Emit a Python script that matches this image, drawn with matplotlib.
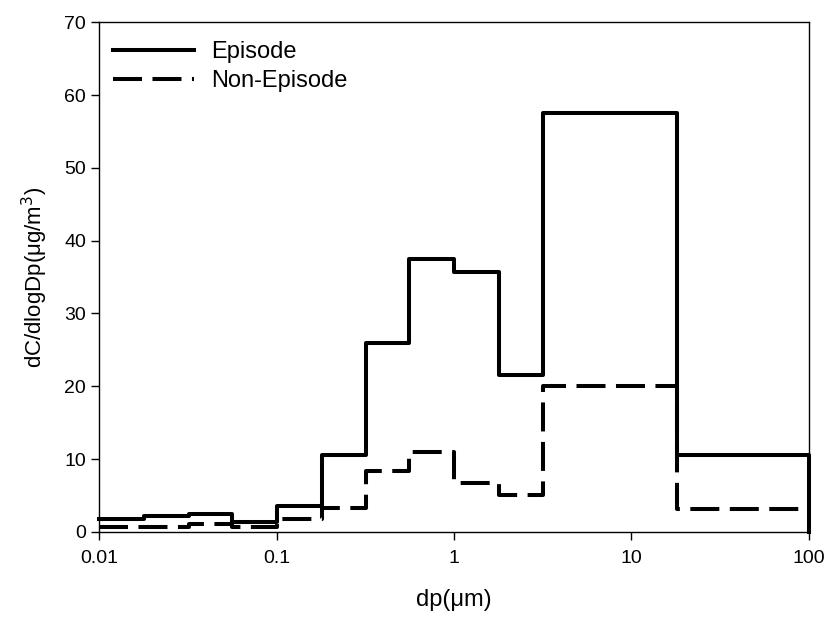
import numpy as np
import matplotlib
matplotlib.use("Agg")
import matplotlib.pyplot as plt

plt.rcParams['font.family'] = ['Liberation Sans', 'DejaVu Sans']

# impactor stage cut points (um)
edges = [0.01, 0.018, 0.032, 0.056, 0.1, 0.18, 0.32, 0.56, 1.0, 1.8, 3.2, 18, 100]
episode = [1.75, 2.2, 2.5, 1.3, 3.6, 10.5, 26.0, 37.5, 35.7, 21.5, 57.5, 10.6]
non_episode = [0.6, 0.6, 1.05, 0.6, 1.7, 3.3, 8.3, 10.9, 6.7, 5.0, 20.1, 3.2]

fig = plt.figure(figsize=(8.26, 6.17), dpi=100)
ax = fig.add_axes([0.12, 0.138, 0.859, 0.826])

x_ep = np.append(edges, edges[-1])
y_ep = np.append(episode, [episode[-1], 0])
ax.step(x_ep, y_ep, where='post', color='black', lw=2.9, label='Episode', clip_on=False)

x_ne = np.array(edges)
y_ne = np.append(non_episode, non_episode[-1])
ax.step(x_ne, y_ne, where='post', color='black', lw=2.9, dashes=(7.2, 2.6),
        label='Non-Episode', clip_on=False)

ax.set_xscale('log')
ax.set_xlim(0.01, 100)
ax.set_ylim(0, 70)
ax.set_xticks([0.01, 0.1, 1, 10, 100])
ax.set_xticklabels(['0.01', '0.1', '1', '10', '100'])
ax.xaxis.set_minor_locator(matplotlib.ticker.NullLocator())
ax.set_yticks(range(0, 71, 10))
ax.tick_params(direction='out', length=6, labelsize=14, width=1)
ax.tick_params(axis='x', pad=7)
for s in ax.spines.values():
    s.set_linewidth(1)

ax.set_xlabel('dp(\u03bcm)', fontsize=17, labelpad=16)
ax.set_ylabel('dC/dlogDp(\u03bcg/m$^3$)', fontsize=16, labelpad=10)

ax.legend(loc='upper left', bbox_to_anchor=(0.0, 0.99), frameon=False, fontsize=17,
          handlelength=3.4, handletextpad=0.75, borderaxespad=0.1, borderpad=0.5,
          labelspacing=0.28)

fig.savefig('out.png', dpi=100)
